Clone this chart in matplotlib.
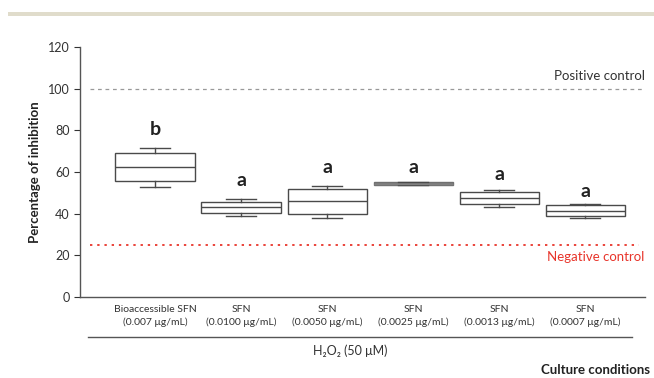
import matplotlib
matplotlib.use("Agg")
import matplotlib.pyplot as plt
from matplotlib.patches import Rectangle

plt.rcParams['font.family'] = ['Lato', 'DejaVu Sans']

# Culture conditions (x categories)
conditions = ["Bioaccessible SFN\n(0.007 μg/mL)", "SFN\n(0.0100 μg/mL)", "SFN\n(0.0050 μg/mL)",
              "SFN\n(0.0025 μg/mL)", "SFN\n(0.0013 μg/mL)", "SFN\n(0.0007 μg/mL)"]
# box statistics (% inhibition)
whisker_low = [52.7, 38.9, 37.8, 53.6, 43.4, 37.9]
q1 = [55.5, 40.2, 40.0, 53.6, 44.5, 38.7]
median = [62.6, 43.1, 45.9, 54.4, 47.4, 41.4]
q3 = [69.3, 45.8, 51.7, 55.2, 50.4, 44.0]
whisker_high = [71.7, 46.9, 53.4, 55.2, 51.2, 44.8]
letters = ["b", "a", "a", "a", "a", "a"]
letter_y = [80.6, 56.0, 62.0, 62.0, 58.6, 50.5]
positive_control = 100
negative_control = 25

fig = plt.figure(figsize=(6.54, 3.78), dpi=100)
ax = fig.add_axes([0.1223, 0.2143, 0.8637, 0.6614])

# decorative band at the top
fig.patches.append(Rectangle((8 / 654, 1 - 16 / 378), 1, 3.5 / 378, transform=fig.transFigure,
                             color="#e0dccb", lw=0))

stats = []
for i in range(len(conditions)):
    stats.append(dict(whislo=whisker_low[i], q1=q1[i], med=median[i], q3=q3[i],
                      whishi=whisker_high[i], fliers=[]))

pos = list(range(1, len(conditions) + 1))
bp = ax.bxp(stats, positions=pos, widths=0.92, patch_artist=True, showfliers=False,
            boxprops=dict(edgecolor="#4a4a4a", facecolor="white", lw=1.0),
            medianprops=dict(color="#4a4a4a", lw=1.0),
            whiskerprops=dict(color="#4a4a4a", lw=1.0),
            capprops=dict(color="#4a4a4a", lw=1.0), capwidths=0.35)
# the 0.0025 box is so narrow it shows as a grey bar
bp['boxes'][3].set_facecolor("#808080")
bp['boxes'][3].set_edgecolor("#707070")
bp['medians'][3].set_color("#808080")

for p, l, y in zip(pos, letters, letter_y):
    ax.text(p, y, l, ha="center", va="center", fontsize=14, fontweight="bold", color="#222222")

# control lines
ax.plot([0.25, 6.69], [positive_control] * 2, ls=(0, (3, 3)), color="#999999", lw=0.9)
ax.text(6.69, positive_control + 3, "Positive control", ha="right", va="bottom",
        fontsize=9.5, color="#333333")
ax.plot([0.25, 6.62], [negative_control] * 2, ls=(0, (1.3, 2.7)), color="#e8352b", lw=1.3)
ax.text(6.69, negative_control - 3, "Negative control", ha="right", va="top",
        fontsize=9.5, color="#e8352b")

ax.set_xlim(0.13, 6.69)
ax.set_ylim(0, 120)
ax.set_yticks(range(0, 121, 20))
ax.set_xticks(pos)
ax.set_xticklabels(conditions, fontsize=7.5, color="#333333", linespacing=1.4)
ax.tick_params(axis="x", length=0, pad=6)
ax.tick_params(axis="y", labelsize=9, colors="#333333", length=4, width=0.8)
for s in ["top", "right"]:
    ax.spines[s].set_visible(False)
for s in ["left", "bottom"]:
    ax.spines[s].set_color("#555555")
    ax.spines[s].set_linewidth(1.0)

ax.set_ylabel("Percentage of inhibition", fontsize=9.5, fontweight="bold", color="#222222",
              labelpad=5)

# group bracket and labels below the axis
fig.add_artist(plt.Line2D([88 / 654, 632 / 654], [1 - 337 / 378] * 2, color="#555555", lw=1.0))
fig.text(350 / 654, 1 - 351 / 378, "H₂O₂ (50 μM)", ha="center", va="center", fontsize=9,
         color="#333333")
fig.text(650 / 654, 1 - 370 / 378, "Culture conditions", ha="right", va="center", fontsize=9.5,
         fontweight="bold", color="#222222")

fig.savefig("out.png", dpi=100)
